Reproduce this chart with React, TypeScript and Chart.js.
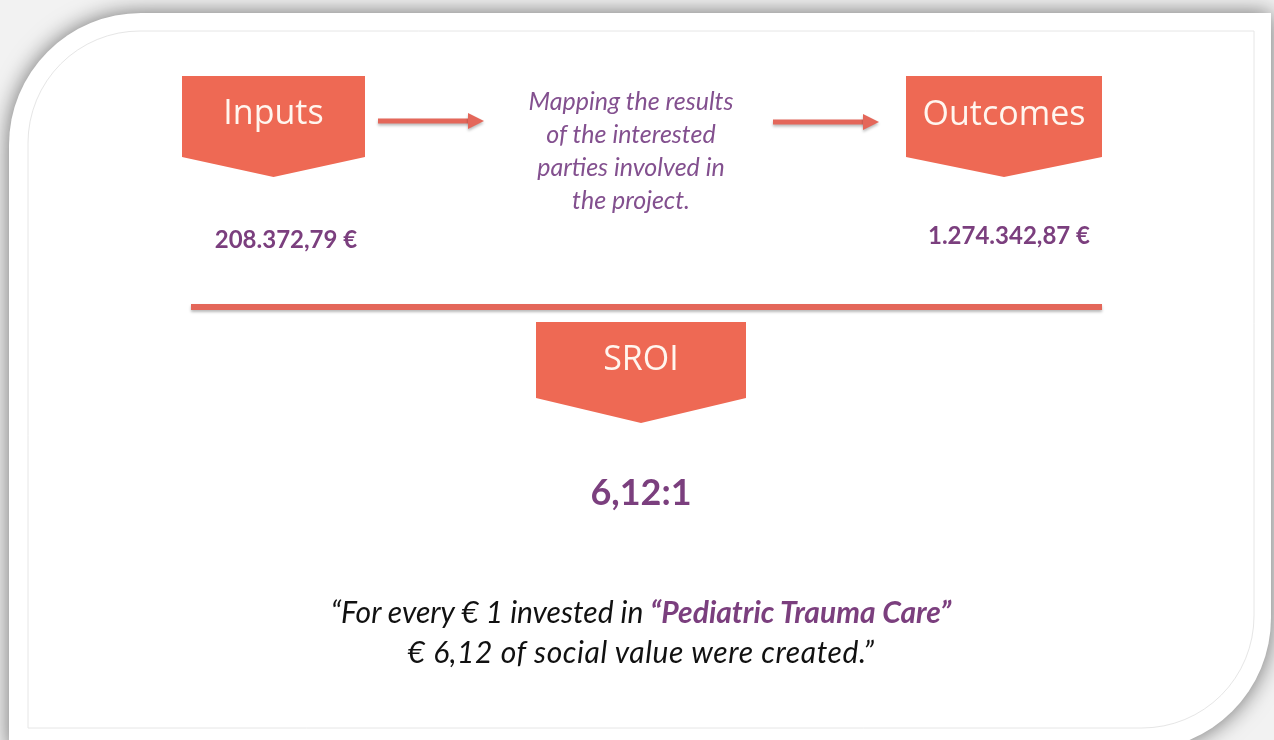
import React, { useEffect, useRef } from "react";
import { Chart, registerables } from "chart.js";

Chart.register(...registerables);

// ---- content ----
const STAGES = ["Inputs", "Outcomes", "SROI"];
const INPUT_VALUE = 208372.79;
const OUTCOME_VALUE = 1274342.87;
const SROI_RATIO = 6.12;
const DESCRIPTION_LINES = ["Mapping the results", "of the interested", "parties involved in", "the project."];
const PROJECT_NAME = "Pediatric Trauma Care";

// ---- formatting helpers (Italian style: dot thousands, comma decimals) ----
const fmtEuro = (v: number) => {
  const [i, d] = v.toFixed(2).split(".");
  return i.replace(/\B(?=(\d{3})+(?!\d))/g, ".") + "," + d + " €";
};
const fmtRatio = (v: number) => v.toFixed(2).replace(".", ",");

// ---- layout (page pixel coordinates) ----
const W = 1274;
const H = 740;
const CORAL = "#EE6954";
const LINE_CORAL = "#E4675A";
const PURPLE = "#7B3F7E";
const PURPLE_LIGHT = "#83508F";

const BADGES = [
  { x0: 182, x1: 365, top: 76, side: 157, tip: 177 },
  { x0: 906, x1: 1102, top: 76, side: 157, tip: 177 },
  { x0: 536, x1: 746, top: 322, side: 398, tip: 423 },
];
const ARROWS = [
  { x0: 378, x1: 484, y: 121 },
  { x0: 773, x1: 879, y: 122 },
];
const RULE = { x0: 191, x1: 1102, y: 307 };

const framePlugin = {
  id: "infographic",
  beforeDraw(chart: any) {
    const { ctx, scales } = chart;
    const X = (v: number) => scales.x.getPixelForValue(v);
    const Y = (v: number) => scales.y.getPixelForValue(v);
    ctx.save();
    // background
    ctx.fillStyle = "#f2f2f2";
    ctx.fillRect(0, 0, chart.width, chart.height);

    // card
    const cl = 9, ct = 13, cr = 1271, cb = 750, R = 132;
    ctx.beginPath();
    ctx.moveTo(X(cl + R), Y(ct));
    ctx.lineTo(X(cr), Y(ct));
    ctx.lineTo(X(cr), Y(cb - R));
    ctx.arcTo(X(cr), Y(cb), X(cr - R), Y(cb), R);
    ctx.lineTo(X(cl), Y(cb));
    ctx.lineTo(X(cl), Y(ct + R));
    ctx.arcTo(X(cl), Y(ct), X(cl + R), Y(ct), R);
    ctx.closePath();
    ctx.shadowColor = "rgba(0,0,0,0.55)";
    ctx.shadowBlur = 22;
    ctx.fillStyle = "#ffffff";
    ctx.fill();
    ctx.shadowColor = "transparent";
    ctx.shadowBlur = 0;

    // inner thin border
    const il = 28, it = 31, ir = 1254, ib = 728, r2 = 112;
    ctx.beginPath();
    ctx.moveTo(X(il + r2), Y(it));
    ctx.lineTo(X(ir), Y(it));
    ctx.lineTo(X(ir), Y(ib - r2));
    ctx.arcTo(X(ir), Y(ib), X(ir - r2), Y(ib), r2);
    ctx.lineTo(X(il), Y(ib));
    ctx.lineTo(X(il), Y(it + r2));
    ctx.arcTo(X(il), Y(it), X(il + r2), Y(it), r2);
    ctx.closePath();
    ctx.strokeStyle = "#e6e6e6";
    ctx.lineWidth = 1;
    ctx.stroke();

    // badges
    BADGES.forEach((b) => {
      const cx = (b.x0 + b.x1) / 2;
      ctx.beginPath();
      ctx.moveTo(X(b.x0), Y(b.top));
      ctx.lineTo(X(b.x1), Y(b.top));
      ctx.lineTo(X(b.x1), Y(b.side));
      ctx.lineTo(X(cx), Y(b.tip));
      ctx.lineTo(X(b.x0), Y(b.side));
      ctx.closePath();
      ctx.fillStyle = CORAL;
      ctx.fill();
    });

    // arrows + rule with soft shadow
    ctx.shadowColor = "rgba(0,0,0,0.28)";
    ctx.shadowBlur = 3;
    ctx.shadowOffsetY = 2;
    ctx.fillStyle = LINE_CORAL;
    ctx.strokeStyle = LINE_CORAL;
    ARROWS.forEach((a) => {
      ctx.beginPath();
      ctx.moveTo(X(a.x0), Y(a.y));
      ctx.lineTo(X(a.x1 - 14), Y(a.y));
      ctx.lineWidth = 5;
      ctx.stroke();
      ctx.beginPath();
      ctx.moveTo(X(a.x1), Y(a.y));
      ctx.lineTo(X(a.x1 - 16), Y(a.y - 8));
      ctx.lineTo(X(a.x1 - 16), Y(a.y + 8));
      ctx.closePath();
      ctx.fill();
    });
    ctx.beginPath();
    ctx.moveTo(X(RULE.x0), Y(RULE.y));
    ctx.lineTo(X(RULE.x1), Y(RULE.y));
    ctx.lineWidth = 6;
    ctx.stroke();
    ctx.restore();
  },
};

const abs = (s: React.CSSProperties): React.CSSProperties => ({ position: "absolute", margin: 0, whiteSpace: "nowrap", ...s });

export default function App() {
  const ref = useRef<HTMLCanvasElement | null>(null);

  useEffect(() => {
    document.body.style.margin = "0";
    document.body.style.overflow = "hidden";
    const chart = new Chart(ref.current as HTMLCanvasElement, {
      type: "scatter",
      data: { datasets: [{ data: [], showLine: false }] },
      options: {
        animation: false,
        responsive: false,
        events: [],
        layout: { padding: 0 },
        scales: {
          x: { type: "linear", min: 0, max: W, display: false },
          y: { type: "linear", min: 0, max: H, reverse: true, display: false },
        },
        plugins: { legend: { display: false }, tooltip: { enabled: false } },
      },
      plugins: [framePlugin],
    });
    return () => chart.destroy();
  }, []);

  const badgeText = (i: number, top: number): React.CSSProperties =>
    abs({
      left: BADGES[i].x0,
      width: BADGES[i].x1 - BADGES[i].x0,
      top,
      textAlign: "center",
      fontFamily: "'Open Sans', sans-serif",
      fontSize: 34,
      lineHeight: "34px",
      color: "#FFF6EF",
    });

  return (
    <div style={{ position: "relative", width: W, height: H, overflow: "hidden" }}>
      <canvas ref={ref} width={W} height={H} style={{ display: "block" }} />
      <div style={badgeText(0, 94)}>{STAGES[0]}</div>
      <div style={badgeText(1, 95)}>{STAGES[1]}</div>
      <div style={badgeText(2, 340)}>{STAGES[2]}</div>

      <div
        style={abs({
          left: 481,
          width: 300,
          top: 84,
          textAlign: "center",
          fontFamily: "Lato, sans-serif",
          fontStyle: "italic",
          fontSize: 25,
          lineHeight: "33px",
          color: PURPLE_LIGHT,
        })}
      >
        {DESCRIPTION_LINES.map((l, i) => (
          <div key={i}>{l}</div>
        ))}
      </div>

      <div
        style={abs({
          left: 186,
          width: 200,
          top: 227,
          textAlign: "center",
          fontFamily: "Lato, sans-serif",
          fontWeight: 700,
          fontSize: 24,
          lineHeight: "24px",
          color: PURPLE,
        })}
      >
        {fmtEuro(INPUT_VALUE)}
      </div>
      <div
        style={abs({
          left: 909,
          width: 200,
          top: 223,
          textAlign: "center",
          fontFamily: "Lato, sans-serif",
          fontWeight: 700,
          fontSize: 24,
          lineHeight: "24px",
          color: PURPLE,
        })}
      >
        {fmtEuro(OUTCOME_VALUE)}
      </div>

      <div
        style={abs({
          left: 536,
          width: 210,
          top: 473,
          textAlign: "center",
          fontFamily: "Lato, sans-serif",
          fontWeight: 700,
          fontSize: 36,
          lineHeight: "36px",
          color: PURPLE,
        })}
      >
        {fmtRatio(SROI_RATIO)}:1
      </div>

      <div
        style={abs({
          left: 191,
          width: 900,
          top: 591,
          textAlign: "center",
          fontFamily: "Lato, sans-serif",
          fontStyle: "italic",
          fontSize: 30,
          lineHeight: "40px",
          color: "#111111",
        })}
      >
        <div>
          “For every € 1 invested in{" "}
          <span style={{ color: PURPLE, fontWeight: 700 }}>“{PROJECT_NAME}”</span>
        </div>
        <div style={{ letterSpacing: "0.6px" }}>€ {fmtRatio(SROI_RATIO)} of social value were created.”</div>
      </div>
    </div>
  );
}
